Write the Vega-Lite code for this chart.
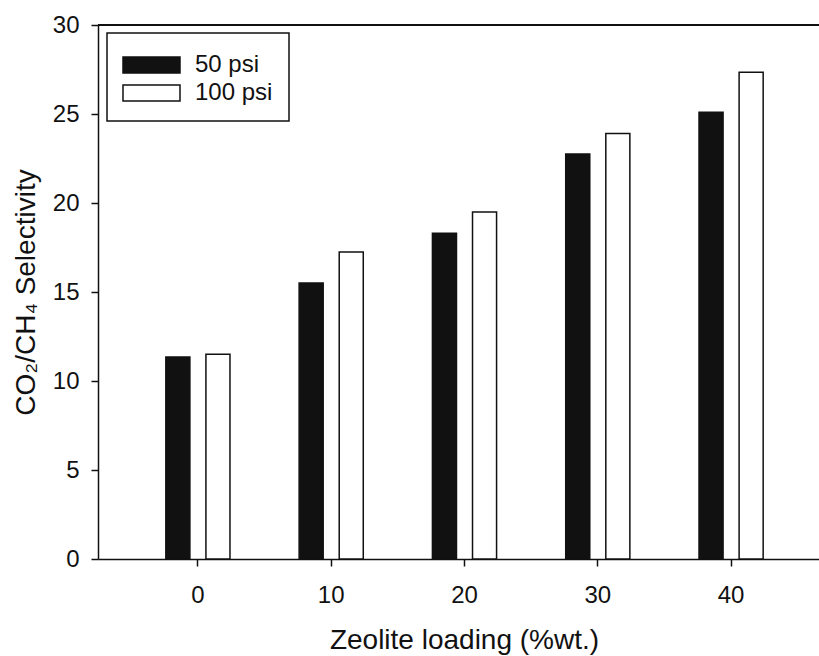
{
  "$schema": "https://vega.github.io/schema/vega-lite/v6.json",
  "width": 721,
  "height": 534,
  "autosize": "none",
  "padding": {"left": 98, "top": 25, "right": 0, "bottom": 97},
  "background": "white",
  "config": {
    "font": "Liberation Sans",
    "view": {"stroke": null},
    "axis": {
      "domainColor": "#111",
      "domainWidth": 1.5,
      "tickColor": "#111",
      "tickWidth": 1.5,
      "tickSize": 7,
      "labelColor": "#111",
      "labelFontSize": 24,
      "titleFontSize": 28,
      "titleFontWeight": "normal",
      "titleColor": "#111",
      "grid": false
    }
  },
  "data": {
    "values": [
      {"loading": "0", "pressure": "50 psi", "selectivity": 11.35},
      {"loading": "0", "pressure": "100 psi", "selectivity": 11.5},
      {"loading": "10", "pressure": "50 psi", "selectivity": 15.5},
      {"loading": "10", "pressure": "100 psi", "selectivity": 17.25},
      {"loading": "20", "pressure": "50 psi", "selectivity": 18.3},
      {"loading": "20", "pressure": "100 psi", "selectivity": 19.5},
      {"loading": "30", "pressure": "50 psi", "selectivity": 22.75},
      {"loading": "30", "pressure": "100 psi", "selectivity": 23.9},
      {"loading": "40", "pressure": "50 psi", "selectivity": 25.1},
      {"loading": "40", "pressure": "100 psi", "selectivity": 27.35}
    ]
  },
  "layer": [
    {
      "mark": {"type": "bar", "stroke": "#111", "strokeWidth": 1.5},
      "encoding": {
        "x": {
          "field": "loading",
          "type": "ordinal",
          "sort": ["0", "10", "20", "30", "40"],
          "scale": {"paddingInner": 0, "paddingOuter": 0.2045, "align": 0.61},
          "axis": {
            "labelAngle": 0,
            "labelPadding": 17,
            "title": "Zeolite loading (%wt.)",
            "titlePadding": 19,
            "titleX": 366,
            "titleAnchor": "middle"
          }
        },
        "xOffset": {
          "field": "pressure",
          "type": "nominal",
          "sort": ["50 psi", "100 psi"],
          "scale": {"paddingInner": 0.4, "paddingOuter": 0.8625}
        },
        "y": {
          "field": "selectivity",
          "type": "quantitative",
          "scale": {"domain": [0, 30], "nice": false},
          "axis": {
            "values": [0, 5, 10, 15, 20, 25, 30],
            "labelPadding": 12,
            "title": "CO₂/CH₄ Selectivity",
            "titlePadding": 12
          }
        },
        "fill": {
          "field": "pressure",
          "type": "nominal",
          "sort": ["50 psi", "100 psi"],
          "scale": {"domain": ["50 psi", "100 psi"], "range": ["#111111", "#ffffff"]},
          "legend": {
            "orient": "none",
            "legendX": 9,
            "legendY": 8,
            "title": null,
            "strokeColor": "#111",
            "fillColor": "white",
            "padding": 16,
            "rowPadding": 0,
            "symbolType": "M-1.067,-0.533L2.733,-0.533L2.733,0.533L-1.067,0.533Z",
            "symbolSize": 900,
            "symbolStrokeColor": "#111",
            "symbolStrokeWidth": 1.5,
            "labelFontSize": 24,
            "labelColor": "#111",
            "labelOffset": 40,
            "encode": {"legend": {"update": {"strokeWidth": {"value": 1.5}}}}
          }
        }
      }
    },
    {
      "mark": {"type": "rule", "stroke": "#111", "strokeWidth": 1.5},
      "encoding": {"y": {"datum": 30}}
    }
  ]
}
